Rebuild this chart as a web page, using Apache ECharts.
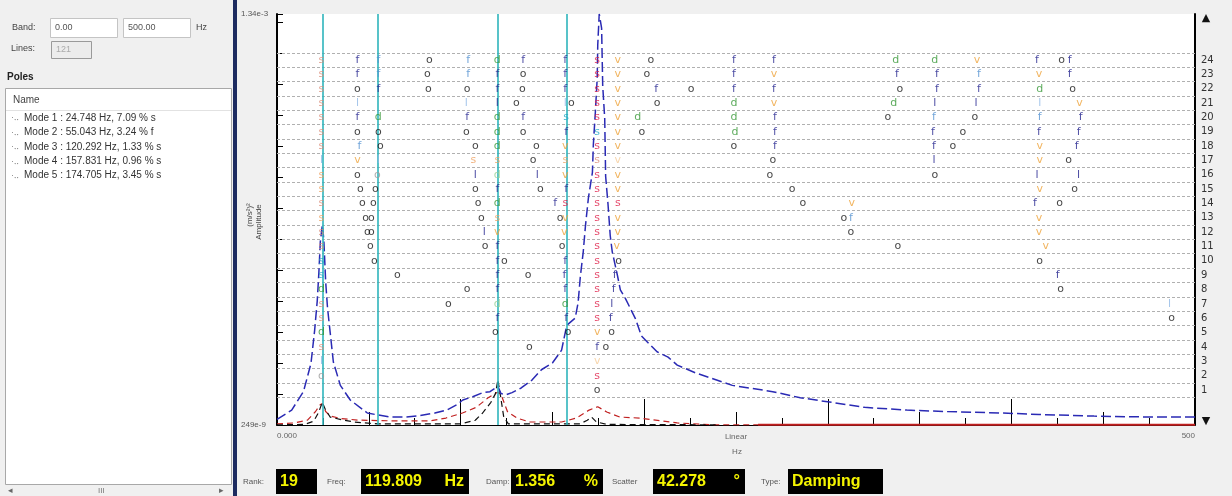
<!DOCTYPE html>
<html><head><meta charset="utf-8">
<script src="https://cdn.jsdelivr.net/npm/echarts@6/dist/echarts.min.js"></script>
<style>html,body{margin:0;padding:0;background:#f0f0f0}#c{width:1232px;height:496px}</style>
</head><body><div id="c"></div>
<script>
// ---------------- DATA ----------------
const bandFrom = '0.00', bandTo = '500.00', bandUnit = 'Hz', linesValue = '121';
const modeNames = [
  'Mode 1 : 24.748 Hz, 7.09 % s',
  'Mode 2 : 55.043 Hz, 3.24 % f',
  'Mode 3 : 120.292 Hz, 1.33 % s',
  'Mode 4 : 157.831 Hz, 0.96 % s',
  'Mode 5 : 174.705 Hz, 3.45 % s'
];
const modeLines = [24.748, 55.043, 120.292, 157.831];
const statusLabels = ['Rank:', 'Freq:', 'Damp:', 'Scatter', 'Type:'];
const statusValues = ['19', '119.809', '1.356', '42.278', 'Damping'];
const statusUnits = ['', 'Hz', '%', '°', ''];
const ampMin = 249e-9, ampMax = 1.34e-3;
const freqMin = 0, freqMax = 500;
const rowLabels = [1,2,3,4,5,6,7,8,9,10,11,12,13,14,15,16,17,18,19,20,21,22,23,24];
const rowBounds = [0.5,1.5,2.5,3.5,4.5,5.5,6.5,7.5,8.5,9.5,10.5,11.5,12.5,13.5,14.5,15.5,16.5,17.5,18.5,19.5,20.5,21.5,22.5,23.5,24.5];

// spectra [Hz, amplitude]
const blueCurve = [[0,2.8e-7],[8,3.4e-7],[14.4,5.0e-7],[18.5,9e-7],[20.5,1.8e-6],[21.9,3.3e-6],[22.8,6e-6],[23.6,1.15e-5],[24.7,1.63e-5],[25.5,1.2e-5],[26.5,5e-6],[27.5,2.9e-6],[30.7,9.3e-7],[34.5,5.7e-7],[39.9,4.2e-7],[49.2,3.2e-7],[55,3.07e-7],[62,2.94e-7],[70,2.94e-7],[76,3.0e-7],[86,3.2e-7],[92.5,3.4e-7],[97.9,3.8e-7],[101.2,4.2e-7],[106.6,4.5e-7],[112.1,4.9e-7],[116,5.0e-7],[120.3,5.6e-7],[122,4.8e-7],[125,4.7e-7],[128,4.9e-7],[133,5.4e-7],[139,6.4e-7],[144,7.9e-7],[150,9.1e-7],[155,1.19e-6],[157.8,2.0e-6],[162.4,2.33e-6],[164,3.2e-6],[165.2,5.5e-6],[166.8,9.3e-6],[168,1.6e-5],[169.6,2.86e-5],[171.8,4.9e-5],[172.3,8.7e-5],[173.4,1.73e-4],[174.4,3.5e-4],[174.7,7.0e-4],[175.5,1.34e-3],[176.8,1.0e-3],[177.4,3.0e-4],[178.5,1.5e-4],[179.0,4.5e-5],[180.3,2.5e-5],[181.5,1.3e-5],[182.6,9.3e-6],[185.4,5.7e-6],[187.0,4.2e-6],[189.8,3.5e-6],[195.2,2.3e-6],[198.5,1.6e-6],[207,1.15e-6],[213,1.03e-6],[218,8.7e-7],[228,7.4e-7],[248,5.7e-7],[270,5.0e-7],[285,4.4e-7],[302,4.0e-7],[320,3.6e-7],[343,3.4e-7],[365,3.3e-7],[395,3.2e-7],[415,3.1e-7],[445,3.0e-7],[475,2.94e-7],[500,2.94e-7]];
const redCurve = [[0,2.55e-7],[9.5,2.6e-7],[16.6,2.76e-7],[21,3.3e-7],[23.5,3.8e-7],[24.7,3.9e-7],[26.5,3.3e-7],[29,3.0e-7],[35,2.85e-7],[44,2.76e-7],[60,2.72e-7],[83,2.71e-7],[92,2.88e-7],[101,3.2e-7],[108.5,3.6e-7],[115,4.4e-7],[120.3,4.96e-7],[122.7,4.4e-7],[125.5,3.3e-7],[130.7,2.88e-7],[137.7,2.65e-7],[155,2.65e-7],[163,2.88e-7],[170,3.4e-7],[174.7,3.65e-7],[179.6,3.27e-7],[186.7,2.94e-7],[197.6,2.88e-7],[218,2.6e-7],[238,2.5e-7],[262,2.5e-7]];
const redFloor = [[262,2.5e-7],[500,2.5e-7]];
const blackCurve = [[0,2.5e-7],[15,2.52e-7],[20,2.7e-7],[22.5,3.2e-7],[24.7,4.0e-7],[26.5,3.4e-7],[29,2.94e-7],[36,2.76e-7],[42,2.65e-7],[55,2.55e-7],[100,2.55e-7],[108,2.75e-7],[112,3.2e-7],[116.5,4.0e-7],[119,4.8e-7],[120.3,6.4e-7],[121.8,4.5e-7],[123.5,2.94e-7],[126,2.55e-7],[165,2.55e-7],[169,2.75e-7],[171.3,2.94e-7],[174,2.65e-7],[180,2.52e-7],[240,2.5e-7]];

// stabilization symbols [Hz, model order row]
const pts_o = [[83.0,24],[203.6,24],[427.4,24],[81.9,23],[134.1,23],[201.4,23],[43.8,22],[82.4,22],[103.6,22],[133.6,22],[225.5,22],[339.3,22],[433.4,22],[130.4,21],[160.3,21],[207.1,21],[332.7,20],[380.1,20],[43.8,19],[55.2,19],[103.1,19],[134.1,19],[198.7,19],[373.6,19],[56.3,18],[108.0,18],[141.2,18],[248.9,18],[368.1,18],[139.5,17],[270.1,17],[431.2,17],[43.8,16],[268.5,16],[358.3,16],[45.4,15],[53.6,15],[108.0,15],[143.4,15],[280.5,15],[434.4,15],[46.5,14],[52.5,14],[109.6,14],[286.4,14],[426.3,14],[48.2,13],[51.4,13],[111.3,13],[154.2,13],[308.8,13],[49.2,12],[51.4,12],[312.6,12],[50.9,11],[113.4,11],[155.3,11],[338.2,11],[53.0,10],[123.8,10],[186.1,10],[415.4,10],[65.6,9],[136.8,9],[103.6,8],[426.8,8],[93.3,7],[487.2,6],[118.9,5],[158.6,5],[182.3,5],[137.4,4],[179.1,4],[174.4,1]];
const pts_oLight = [[54.7,16],[24.2,2]];
const pts_f = [[43.8,24],[134.1,24],[157.0,24],[248.9,24],[270.7,24],[413.9,24],[431.7,24],[43.8,23],[120.0,23],[157.0,23],[248.9,23],[337.6,23],[359.4,23],[431.7,23],[55.2,22],[120.0,22],[157.0,22],[206.5,22],[248.9,22],[270.7,22],[359.4,22],[382.3,22],[43.8,20],[103.6,20],[134.1,20],[271.2,20],[437.7,20],[157.5,19],[271.2,19],[357.2,19],[415.0,19],[436.6,19],[271.2,18],[357.8,18],[435.5,18],[120.0,15],[157.5,15],[151.5,14],[412.8,14],[120.0,11],[120.0,10],[157.0,10],[120.0,9],[156.5,9],[183.9,9],[425.2,9],[120.0,8],[157.0,8],[183.4,8],[120.0,6],[157.5,6],[181.8,6],[174.4,4]];
const pts_fLight = [[55.2,24],[104.2,24],[55.2,23],[104.2,23],[382.3,23],[357.8,20],[415.4,20],[44.9,18],[312.6,13]];
const pts_l = [[120.0,21],[358.3,21],[380.7,21],[357.8,17],[108.0,16],[141.7,16],[413.9,16],[436.6,16],[112.9,12],[182.3,7]];
const pts_lLight = [[43.8,21],[103.1,21],[157.0,21],[415.4,21],[55.2,17],[24.2,17],[24.2,3],[486.1,7]];
const pts_v = [[185.6,24],[381.2,24],[185.6,23],[270.7,23],[415.0,23],[185.6,22],[185.6,21],[270.7,21],[437.1,21],[185.6,20],[185.6,19],[157.0,18],[185.6,18],[415.4,18],[43.8,17],[415.4,17],[157.0,16],[185.6,16],[185.6,15],[415.4,15],[313.1,14],[157.0,13],[185.6,13],[415.0,13],[120.0,12],[156.5,12],[185.6,12],[415.0,12],[185.0,11],[418.7,11],[174.4,5]];
const pts_vLight = [[185.6,17],[174.4,3]];
const pts_d = [[120.0,24],[337.0,24],[358.3,24],[415.4,22],[248.9,21],[335.9,21],[55.2,20],[120.0,20],[196.5,20],[248.9,20],[120.0,19],[249.5,19],[120.0,18],[120.0,14],[24.2,8],[157.0,7],[24.2,5]];
const pts_dLight = [[120.0,16],[120.0,7]];
const pts_s = [[174.4,24],[174.4,23],[174.4,22],[174.4,21],[174.4,20],[174.4,18],[174.4,16],[174.4,15],[174.4,14],[174.4,13],[174.4,12],[174.4,11],[174.4,10],[174.4,9],[174.4,8],[174.4,7],[174.4,6],[174.4,2],[157.0,14],[185.6,14]];
const pts_sPale = [[24.2,24],[24.2,23],[24.2,22],[24.2,21],[24.2,20],[24.2,19],[24.2,18],[24.2,14],[24.2,12],[24.2,11],[24.2,7],[24.2,6],[24.2,4],[174.4,17]];
const pts_sOrange = [[24.2,16],[24.2,15],[24.2,13],[106.9,17],[157.0,17],[120.0,17],[120.0,13]];
const pts_sCyan = [[157.5,20],[174.4,19],[24.2,10],[24.2,9]];

// ---------------- STYLE ----------------
const letterGroups = [
  {pts: pts_o, ch: 'o', color: '#111111'},
  {pts: pts_oLight, ch: 'o', color: '#9a9a9a'},
  {pts: pts_f, ch: 'f', color: '#1a1a8a'},
  {pts: pts_fLight, ch: 'f', color: '#4f8fcf'},
  {pts: pts_l, ch: 'l', color: '#1a1a8a'},
  {pts: pts_lLight, ch: 'l', color: '#8fb8e6'},
  {pts: pts_v, ch: 'v', color: '#eea23a'},
  {pts: pts_vLight, ch: 'v', color: '#f5cc98'},
  {pts: pts_d, ch: 'd', color: '#339633'},
  {pts: pts_dLight, ch: 'd', color: '#94d094'},
  {pts: pts_s, ch: 's', color: '#e0204a'},
  {pts: pts_sPale, ch: 's', color: '#d98c78'},
  {pts: pts_sOrange, ch: 's', color: '#eda060'},
  {pts: pts_sCyan, ch: 's', color: '#22a8c6'}
];
const FONT = '"Liberation Sans", Arial, sans-serif';

const chart = echarts.init(document.getElementById('c'), null, {renderer: 'canvas'});

const series = [
  {type: 'line', xAxisIndex: 0, yAxisIndex: 0, data: blueCurve, showSymbol: false, silent: true, z: 4,
   lineStyle: {color: '#2a2ab4', width: 1.5, type: [10, 4]},
   markLine: {silent: true, symbol: ['none', 'none'], label: {show: false}, animation: false,
     lineStyle: {color: '#2eb4bc', width: 1.6, type: 'solid'},
     data: modeLines.map(v => ({xAxis: v}))}},
  {type: 'line', xAxisIndex: 0, yAxisIndex: 0, data: redCurve, showSymbol: false, silent: true, z: 3,
   lineStyle: {color: '#c02020', width: 1.2, type: [6, 4]}},
  {type: 'line', xAxisIndex: 0, yAxisIndex: 0, data: redFloor, showSymbol: false, silent: true, z: 3,
   lineStyle: {color: '#c02020', width: 2, type: 'solid'}},
  {type: 'line', xAxisIndex: 0, yAxisIndex: 0, data: blackCurve, showSymbol: false, silent: true, z: 3,
   lineStyle: {color: '#111', width: 1.2, type: [6, 4]}}
];
letterGroups.forEach((g, i) => {
  const s = {
    type: 'scatter', xAxisIndex: 2, yAxisIndex: 2, data: g.pts, silent: true, z: 5,
    symbol: 'circle', symbolSize: 2, itemStyle: {color: 'rgba(0,0,0,0)'},
    label: {show: true, position: 'inside', formatter: g.ch, color: g.color, fontSize: 11,
      fontFamily: '"DejaVu Sans", sans-serif', textBorderWidth: 0}
  };
  if (i === 0) {
    s.markLine = {silent: true, symbol: ['none', 'none'], label: {show: false}, animation: false, z: 1,
      lineStyle: {color: '#b0b0b0', width: 1, type: [3, 2]},
      data: rowBounds.map(v => ({yAxis: v}))};
  }
  series.push(s);
});

// graphic elements
const txt = (x, y, text, opt) => Object.assign({type: 'text', x: x, y: y, silent: true, style: Object.assign({
  text: text, fill: '#333', font: '10px ' + FONT, align: 'left', verticalAlign: 'middle',
  textAlign: 'left', textVerticalAlign: 'middle'}, (opt && opt.style) || {})}, (opt && opt.el) || {});
const rect = (x, y, w, h, fill, stroke) => ({type: 'rect', silent: true, shape: {x: x, y: y, width: w, height: h},
  style: {fill: fill, stroke: stroke || null, lineWidth: 1}});

const graphics = [];
// left panel
graphics.push(txt(12, 28, 'Band:', {style: {font: '9px ' + FONT, fill: '#444'}}));
graphics.push(rect(50.5, 18.5, 67, 19, '#fff', '#c4c4c4'));
graphics.push(txt(55, 28, bandFrom, {style: {font: '9px ' + FONT, fill: '#555'}}));
graphics.push(rect(123.5, 18.5, 67, 19, '#fff', '#c4c4c4'));
graphics.push(txt(128, 28, bandTo, {style: {font: '9px ' + FONT, fill: '#555'}}));
graphics.push(txt(196, 28, bandUnit, {style: {font: '9px ' + FONT, fill: '#444'}}));
graphics.push(txt(11, 49, 'Lines:', {style: {font: '9px ' + FONT, fill: '#444'}}));
graphics.push(rect(51.5, 41.5, 40, 17, '#ececec', '#9a9a9a'));
graphics.push(txt(56, 50, linesValue, {style: {font: '9px ' + FONT, fill: '#aaa'}}));
graphics.push(txt(7, 77, 'Poles', {style: {font: 'bold 10px ' + FONT, fill: '#222'}}));
graphics.push(rect(5.5, 88.5, 226, 396, '#fff', '#a8a8a8'));
graphics.push({type: 'line', silent: true, shape: {x1: 6, y1: 110.5, x2: 231, y2: 110.5}, style: {stroke: '#e2e2e2', lineWidth: 1}});
graphics.push(txt(13, 100, 'Name', {style: {font: '10px ' + FONT, fill: '#444'}}));
modeNames.forEach((m, i) => {
  const y = 118 + i * 14.4;
  graphics.push(txt(11, y, '\u00b7\u2025', {style: {font: '9px ' + FONT, fill: '#888'}}));
  graphics.push(txt(24, y, m, {style: {font: '10px ' + FONT, fill: '#333'}}));
});
graphics.push(rect(6, 485, 225, 11, '#f0f0f0', null));
graphics.push(txt(8, 491, '\u25c2', {style: {font: '9px ' + FONT, fill: '#666'}}));
graphics.push(txt(219, 491, '\u25b8', {style: {font: '9px ' + FONT, fill: '#666'}}));
graphics.push(txt(98, 491, 'III', {style: {font: '8px ' + FONT, fill: '#777'}}));
// divider
graphics.push(rect(233, 0, 4, 496, '#1d2b60', null));
// y axis title
graphics.push(txt(250, 215, '(m/s\u00b2)\u00b2', {el: {rotation: Math.PI / 2}, style: {font: '8px ' + FONT, fill: '#444', align: 'center', textAlign: 'center'}}));
graphics.push(txt(259, 222, 'Amplitude', {el: {rotation: Math.PI / 2}, style: {font: '8px ' + FONT, fill: '#444', align: 'center', textAlign: 'center'}}));
// x titles
graphics.push(txt(736, 437, 'Linear', {style: {font: '8px ' + FONT, fill: '#666', align: 'center', textAlign: 'center'}}));
graphics.push(txt(737, 452, 'Hz', {style: {font: '8px ' + FONT, fill: '#666', align: 'center', textAlign: 'center'}}));
// scroll arrows
graphics.push(txt(1206, 18, '\u25b2', {style: {font: '11px "DejaVu Sans"', fill: '#111', align: 'center', textAlign: 'center'}}));
graphics.push(txt(1206, 421, '\u25bc', {style: {font: '11px "DejaVu Sans"', fill: '#111', align: 'center', textAlign: 'center'}}));
// status bar
const labelX = [243, 327, 486, 612, 761];
const boxX = [276, 361, 511, 653, 788];
const boxW = [41, 108, 92, 92, 95];
const VFONT = 'bold 16px "Liberation Sans", Arial, sans-serif';
statusLabels.forEach((l, i) => {
  graphics.push(txt(labelX[i], 482, l, {style: {font: '8px ' + FONT, fill: '#555'}}));
  graphics.push(rect(boxX[i], 469, boxW[i], 25, '#000', null));
  graphics.push(txt(boxX[i] + 4, 482, statusValues[i], {style: {font: VFONT, fill: '#f4f400'}}));
  if (statusUnits[i]) {
    graphics.push(txt(boxX[i] + boxW[i] - 5, 482, statusUnits[i], {style: {font: VFONT, fill: '#f4f400', align: 'right', textAlign: 'right'}}));
  }
});

const option = {
  animation: false,
  backgroundColor: '#f0f0f0',
  grid: [
    {left: 277, right: 37, top: 14, bottom: 71, show: true, backgroundColor: '#fff', borderWidth: 0},
    {left: 277, right: 37, top: 17.0, bottom: 77.3, show: false}
  ],
  xAxis: [
    {gridIndex: 0, type: 'value', min: freqMin, max: freqMax, interval: 100, position: 'bottom',
     axisLine: {show: true, lineStyle: {color: '#000', width: 1}},
     axisTick: {show: true, inside: true, length: 26, lineStyle: {color: '#000', width: 1}},
     minorTick: {show: true, splitNumber: 4, length: 7, lineStyle: {color: '#000', width: 1}},
     splitLine: {show: false},
     axisLabel: {show: true, margin: 7, fontSize: 8, color: '#666', fontFamily: FONT,
       showMinLabel: true, showMaxLabel: true, alignMinLabel: 'left', alignMaxLabel: 'right',
       formatter: v => v === freqMin ? '0.000' : (v === freqMax ? '500' : '')}},
    {gridIndex: 0, type: 'value', min: freqMin, max: freqMax, interval: 50, position: 'bottom', offset: 0,
     axisLine: {show: false}, axisLabel: {show: false}, splitLine: {show: false},
     axisTick: {show: true, inside: true, length: 13, lineStyle: {color: '#000', width: 1}}},
    {gridIndex: 1, type: 'value', min: freqMin, max: freqMax, show: false}
  ],
  yAxis: [
    {gridIndex: 0, type: 'log', logBase: 10, min: ampMin, max: ampMax, position: 'left',
     axisLine: {show: true, lineStyle: {color: '#000', width: 2}},
     axisTick: {show: false}, minorTick: {show: false}, splitLine: {show: false}, minorSplitLine: {show: false},
     axisLabel: {show: true, align: 'left', margin: 36, fontSize: 8, color: '#555', fontFamily: FONT,
       showMinLabel: true, showMaxLabel: true,
       formatter: v => v <= ampMin * 1.01 ? '249e-9' : (v >= ampMax * 0.99 ? '1.34e-3' : '')}},
    {gridIndex: 0, type: 'value', min: 0, max: 13.26, interval: 1, position: 'left', offset: 0,
     axisLine: {show: false}, axisLabel: {show: false}, splitLine: {show: false},
     axisTick: {show: true, inside: true, length: 6, lineStyle: {color: '#000', width: 1}}},
    {gridIndex: 1, type: 'value', min: -1, max: 27, interval: 1, position: 'right',
     axisLine: {show: false}, axisTick: {show: false}, splitLine: {show: false},
     axisLabel: {show: true, margin: 6, fontSize: 10, color: '#333', fontFamily: '"DejaVu Sans", sans-serif',
       formatter: v => rowLabels.indexOf(v) >= 0 ? String(v) : ''}},
    {gridIndex: 0, type: 'value', min: 0, max: 1, position: 'right', offset: 0,
     axisLine: {show: true, lineStyle: {color: '#000', width: 2}},
     axisTick: {show: false}, axisLabel: {show: false}, splitLine: {show: false}}
  ],
  series: series,
  graphic: graphics
};
chart.setOption(option);
</script></body></html>
